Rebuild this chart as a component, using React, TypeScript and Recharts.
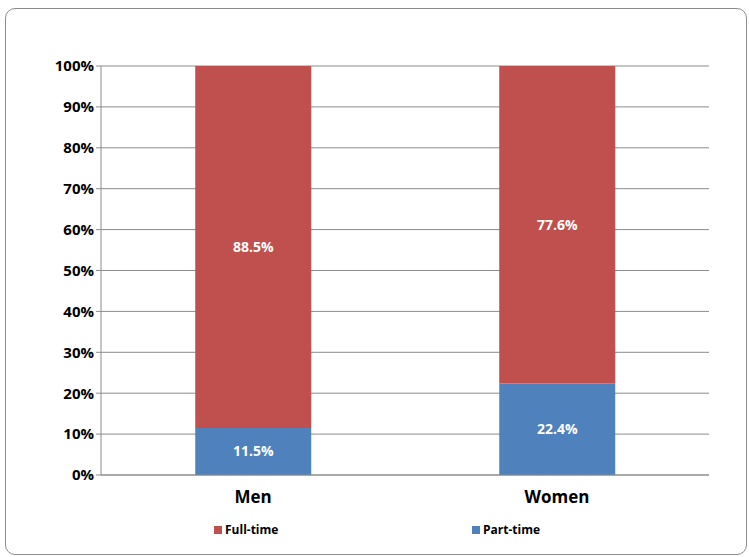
import { BarChart, Bar, XAxis, YAxis, CartesianGrid, LabelList } from 'recharts'

const categories = ['Men', 'Women']
const partTime = [11.5, 22.4]
const fullTime = [88.5, 77.6]
const yTicks = [0, 10, 20, 30, 40, 50, 60, 70, 80, 90, 100]

const data = categories.map((name, i) => ({ name, part: partTime[i], full: fullTime[i] }))

const FONT = '"Open Sans", Calibri, sans-serif'

const renderLegend = () => (
  <div style={{ fontFamily: FONT, fontWeight: 700, fontSize: 12, color: '#000', whiteSpace: 'nowrap' }}>
    <div style={{ position: 'absolute', left: 214, display: 'flex', alignItems: 'center' }}>
      <span style={{ width: 8, height: 8, background: '#C0504D', marginRight: 3 }} />Full-time
    </div>
    <div style={{ position: 'absolute', left: 472, display: 'flex', alignItems: 'center' }}>
      <span style={{ width: 8, height: 8, background: '#4F81BD', marginRight: 3 }} />Part-time
    </div>
  </div>
)

export default function App() {
  return (
    <div style={{ position: 'absolute', left: 0, top: 0, width: 749, height: 557, background: '#fff' }}>
      <div style={{ position: 'absolute', left: 5, top: 8, width: 740, height: 545, border: '1px solid #8c8c8c', borderRadius: 10 }} />
      <BarChart width={749} height={557} data={data} margin={{ top: 66, right: 40, bottom: 52, left: 0 }} barCategoryGap="31%">
        <CartesianGrid vertical={false} stroke="#8c8c8c" />
        <YAxis
          width={101}
          domain={[0, 100]}
          ticks={yTicks}
          interval={0}
          tickFormatter={(v) => `${v}%`}
          tick={{ fontFamily: FONT, fontWeight: 700, fontSize: 15, fill: '#000' }}
          axisLine={{ stroke: '#8c8c8c' }}
          tickLine={{ stroke: '#8c8c8c' }}
          tickSize={5}
        />
        <XAxis
          dataKey="name"
          tick={{ fontFamily: FONT, fontWeight: 700, fontSize: 17, fill: '#000', dy: 8 }}
          axisLine={{ stroke: '#8c8c8c' }}
          tickLine={false}
        />
        <Bar dataKey="part" stackId="a" fill="#4F81BD" isAnimationActive={false}>
          <LabelList dataKey="part" position="center" formatter={(v: number) => `${v.toFixed(1)}%`} style={{ fill: '#fff', fontFamily: FONT, fontWeight: 700, fontSize: 14 }} />
        </Bar>
        <Bar dataKey="full" stackId="a" fill="#C0504D" isAnimationActive={false}>
          <LabelList dataKey="full" position="center" formatter={(v: number) => `${v.toFixed(1)}%`} style={{ fill: '#fff', fontFamily: FONT, fontWeight: 700, fontSize: 14 }} />
        </Bar>
      </BarChart>
      <div style={{ position: 'absolute', top: 521, left: 0 }}>{renderLegend()}</div>
    </div>
  )
}
